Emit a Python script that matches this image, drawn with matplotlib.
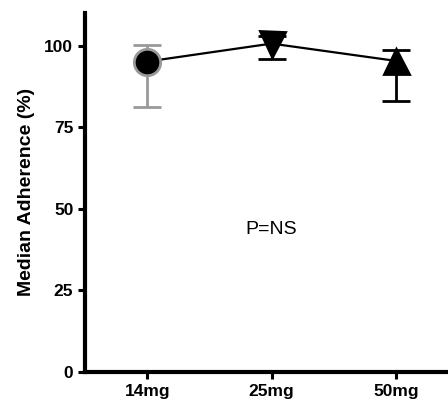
import matplotlib
matplotlib.use('Agg')
import matplotlib.pyplot as plt

plt.rcParams['font.family'] = ['Liberation Sans', 'DejaVu Sans']

doses = ['14mg', '25mg', '50mg']
median = [95.1, 100.6, 95.3]
err_low = [81.3, 96.0, 82.9]
err_high = [100.3, 103.0, 98.5]
markers = ['o', 'v', '^']
bar_colors = ['#999999', 'black', 'black']
edge_colors = ['#999999', 'black', 'black']

fig = plt.figure(figsize=(4.48, 4.03), dpi=100)
ax = fig.add_axes([0.19, 0.077, 0.81, 0.891])

x = list(range(len(doses)))
ax.plot(x, median, color='black', lw=1.6, zorder=2)

for i in x:
    ax.errorbar(i, median[i],
                yerr=[[median[i] - err_low[i]], [err_high[i] - median[i]]],
                fmt='none', ecolor=bar_colors[i], elinewidth=2, capsize=10,
                capthick=2, zorder=3)
    ax.plot(i, median[i], marker=markers[i], ms=19 if i == 0 else 18,
            mfc='black', mec=edge_colors[i], mew=2, ls='none', zorder=4)

ax.text(1.0, 43.5, 'P=NS', ha='center', va='center', fontsize=14)

ax.set_xlim(-0.5, 2.42)
ax.set_ylim(0, 110)
ax.set_xticks(x)
ax.set_xticklabels(doses, fontsize=12.5, fontweight='bold')
ax.set_yticks([0, 25, 50, 75, 100])
ax.tick_params(axis='y', labelsize=12.5, width=2.2, length=5)
for lab in ax.get_yticklabels():
    lab.set_fontweight('bold')
ax.tick_params(axis='x', width=2.2, length=5)
ax.set_ylabel('Median Adherence (%)', fontsize=14, fontweight='bold', labelpad=7)

for side in ['top', 'right']:
    ax.spines[side].set_visible(False)
for side in ['left', 'bottom']:
    ax.spines[side].set_linewidth(3)

fig.savefig('out.png', dpi=100)
